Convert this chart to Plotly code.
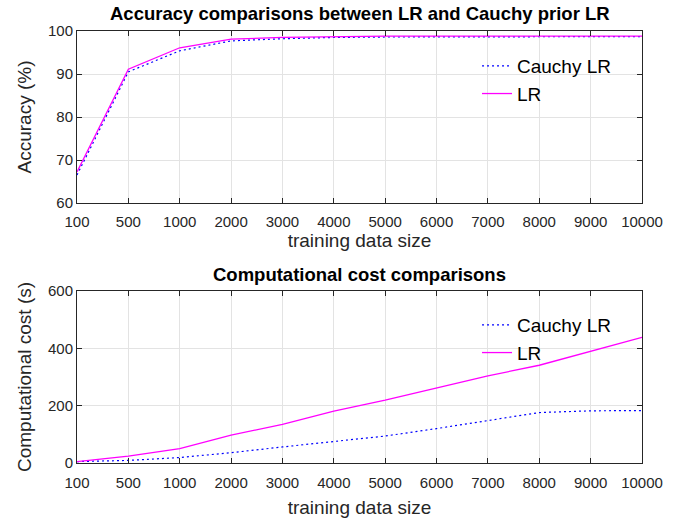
import plotly.graph_objects as go

tick_labels = ["100", "500", "1000", "2000", "3000", "4000", "5000", "6000", "7000", "8000", "9000", "10000"]
positions = list(range(len(tick_labels)))

acc_cauchy = [66.5, 90.5, 95.4, 97.7, 98.2, 98.5, 98.6, 98.6, 98.7, 98.7, 98.7, 98.7]
acc_lr = [67.2, 91.1, 96.1, 98.1, 98.5, 98.7, 98.8, 98.8, 98.8, 98.8, 98.8, 98.8]

cost_cauchy = [5, 9, 19, 36, 56, 75, 94, 120, 149, 176, 182, 183]
cost_lr = [5, 24, 50, 97, 135, 181, 219, 262, 304, 341, 390, 438]

FONT = "Liberation Sans, Arial, Helvetica, sans-serif"
BLUE = "#0000ff"
MAG = "#ff00ff"
DOT = "2px,3px"

fig = go.Figure()
fig.add_trace(go.Scatter(x=positions, y=acc_cauchy, mode="lines", name="Cauchy LR",
                         line=dict(color=BLUE, width=1.2, dash=DOT), xaxis="x", yaxis="y", legend="legend"))
fig.add_trace(go.Scatter(x=positions, y=acc_lr, mode="lines", name="LR",
                         line=dict(color=MAG, width=1.3), xaxis="x", yaxis="y", legend="legend"))
fig.add_trace(go.Scatter(x=positions, y=cost_cauchy, mode="lines", name="Cauchy LR",
                         line=dict(color=BLUE, width=1.2, dash=DOT), xaxis="x2", yaxis="y2", legend="legend2"))
fig.add_trace(go.Scatter(x=positions, y=cost_lr, mode="lines", name="LR",
                         line=dict(color=MAG, width=1.3), xaxis="x2", yaxis="y2", legend="legend2"))

axis_common = dict(showline=True, linecolor="#262626", linewidth=1, mirror="ticks",
                   ticks="inside", ticklen=5, tickcolor="#262626",
                   showgrid=True, gridcolor="#e3e3e3", gridwidth=1, zeroline=False,
                   automargin=False,
                   tickfont=dict(family=FONT, size=15, color="#262626"))

H = 519
t, b = 31, 56
ph = H - t - b
top_dom = [(463 - 203) / ph, 1]
bot_dom = [0, (463 - 291) / ph]
TF = dict(size=19, family=FONT, color="#262626")

fig.update_layout(
    width=694, height=519,
    margin=dict(l=77, r=52, t=t, b=b),
    paper_bgcolor="white", plot_bgcolor="white",
    font=dict(family=FONT, color="#262626"),
    xaxis=dict(domain=[0, 1], anchor="y", range=[0, 11], tickmode="array",
               tickvals=positions, ticktext=tick_labels, ticklabelstandoff=5,
               title=dict(text="training data size", font=TF, standoff=4),
               **axis_common),
    yaxis=dict(domain=top_dom, anchor="x", range=[60, 100], tickvals=[60, 70, 80, 90, 100],
               title=dict(text="Accuracy (%)", font=TF, standoff=11),
               **axis_common),
    xaxis2=dict(domain=[0, 1], anchor="y2", range=[0, 11], tickmode="array",
                tickvals=positions, ticktext=tick_labels, ticklabelstandoff=6,
                title=dict(text="training data size", font=TF, standoff=10),
                **axis_common),
    yaxis2=dict(domain=bot_dom, anchor="x2", range=[0, 600], tickvals=[0, 200, 400, 600],
                title=dict(text="Computational cost (s)", font=TF, standoff=11),
                **axis_common),
    legend=dict(x=0.708, y=0.963, xanchor="left", yanchor="top", bgcolor="rgba(0,0,0,0)",
                font=dict(size=19, family=FONT, color="#000000"), tracegroupgap=0),
    legend2=dict(x=0.708, y=0.3634, xanchor="left", yanchor="top", bgcolor="rgba(0,0,0,0)",
                 font=dict(size=19, family=FONT, color="#000000"), tracegroupgap=0),
    annotations=[
        dict(text="<b>Accuracy comparisons between LR and Cauchy prior LR</b>", xref="paper", yref="paper",
             x=0.5, y=1 + (31 - 14) / ph, xanchor="center", yanchor="middle", showarrow=False,
             font=dict(size=18.5, family=FONT, color="#000000")),
        dict(text="<b>Computational cost comparisons</b>", xref="paper", yref="paper",
             x=0.5, y=(463 - 274) / ph, xanchor="center", yanchor="middle", showarrow=False,
             font=dict(size=18.5, family=FONT, color="#000000")),
    ],
)

fig.write_html("out.html", config={"displayModeBar": False},
               post_script="document.body.style.margin='0px';")
